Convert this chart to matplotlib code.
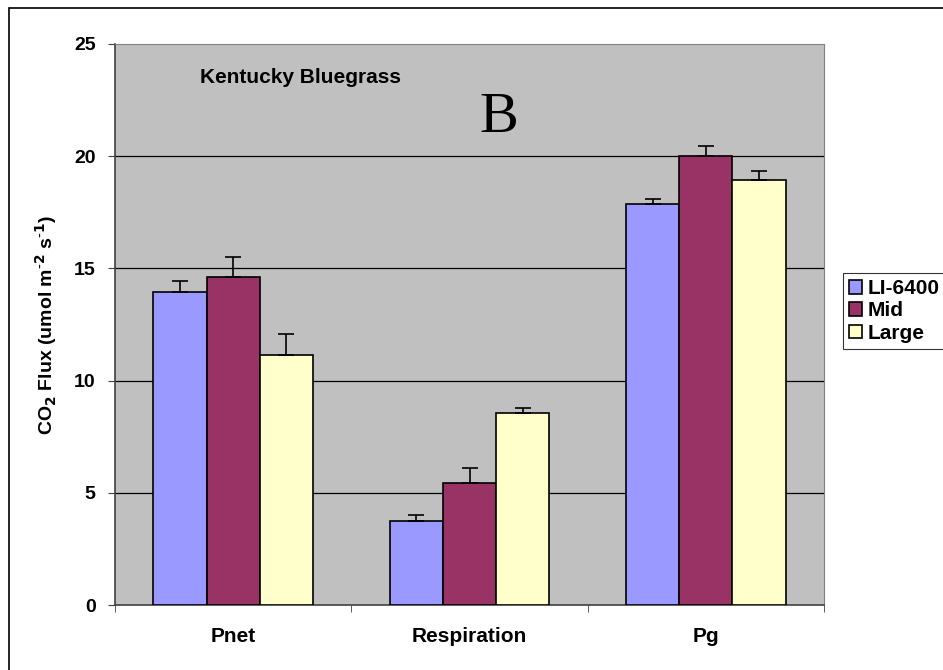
import matplotlib
matplotlib.use("Agg")
import matplotlib.pyplot as plt
import numpy as np
from matplotlib.patches import Rectangle

categories = ["Pnet", "Respiration", "Pg"]
series = ["LI-6400", "Mid", "Large"]
li6400 = [13.95, 3.73, 17.86]
mid = [14.6, 5.42, 20.0]
large = [11.13, 8.54, 18.95]
li6400_err = [0.5, 0.28, 0.22]
mid_err = [0.9, 0.67, 0.47]
large_err = [0.95, 0.23, 0.39]
yticks = [0, 5, 10, 15, 20, 25]

colors = ["#9999FF", "#993366", "#FFFFCC"]
plt.rcParams['font.family'] = ['Liberation Sans', 'DejaVu Sans']

fig = plt.figure(figsize=(9.43, 6.70), dpi=100)
ax = fig.add_axes([115/943, 1-605/670, (824-115)/943, (605-44)/670])
ax.set_facecolor("#C0C0C0")

x = np.arange(len(categories))
w = 0.225
for i, (vals, errs) in enumerate([(li6400, li6400_err), (mid, mid_err), (large, large_err)]):
    pos = x + (i - 1) * w
    ax.bar(pos, vals, width=w, color=colors[i], edgecolor="black", linewidth=1.2,
           label=series[i], zorder=3)
    ax.errorbar(pos, vals, yerr=[np.zeros(3), errs], fmt="none", ecolor="black",
                elinewidth=1.2, capsize=6, capthick=1.2, zorder=4)

ax.set_xlim(-0.5, 2.5)
ax.set_ylim(0, 25)
ax.set_yticks(yticks)
ax.set_yticklabels([str(t) for t in yticks], fontsize=14, fontweight="bold")
ax.set_xticks(x)
ax.set_xticklabels(categories, fontsize=15, fontweight="bold")
ax.set_xticks([-0.5, 0.5, 1.5, 2.5], minor=True)
ax.tick_params(axis="x", which="major", length=0, pad=16)
ax.tick_params(axis="x", which="minor", length=5, color="#404040")
ax.tick_params(axis="y", length=5, color="#404040", pad=9)
for t in yticks[1:-1]:
    ax.axhline(t, color="black", linewidth=0.9, zorder=1)
ax.spines["left"].set_color("#404040")
ax.spines["bottom"].set_color("#404040")
ax.spines["left"].set_linewidth(1.2)
ax.spines["bottom"].set_linewidth(1.2)
ax.spines["top"].set_color("#808080")
ax.spines["right"].set_color("#808080")

ax.set_ylabel("CO$_\\mathbf{2}$ Flux (umol m$^{\\mathbf{\\text{-}2}}$ s$^{\\mathbf{\\text{-}1}}$)",
              fontsize=14, fontweight="bold", labelpad=11)

ax.text(0.12, 0.94, "Kentucky Bluegrass", transform=ax.transAxes,
        fontsize=15, fontweight="bold", va="center", ha="left")
ax.text(0.542, 0.868, "B", transform=ax.transAxes, fontsize=42,
        family=["Liberation Serif", "DejaVu Serif"], va="center", ha="center")

leg = fig.legend(loc="upper left", bbox_to_anchor=(843/943, 1-273/670),
                 frameon=True, fancybox=False, edgecolor="black",
                 prop={"weight": "bold", "size": 15}, handlelength=0.6,
                 handleheight=0.6, handletextpad=0.3, borderpad=0.3,
                 labelspacing=0.15, borderaxespad=0)
leg.get_frame().set_linewidth(0.8)

fig.patches.append(Rectangle((9/943, -0.1), 1.2, 1 - 8/670 + 0.1, transform=fig.transFigure,
                             fill=False, edgecolor="black", linewidth=1.2))

fig.savefig("out.png", dpi=100)
